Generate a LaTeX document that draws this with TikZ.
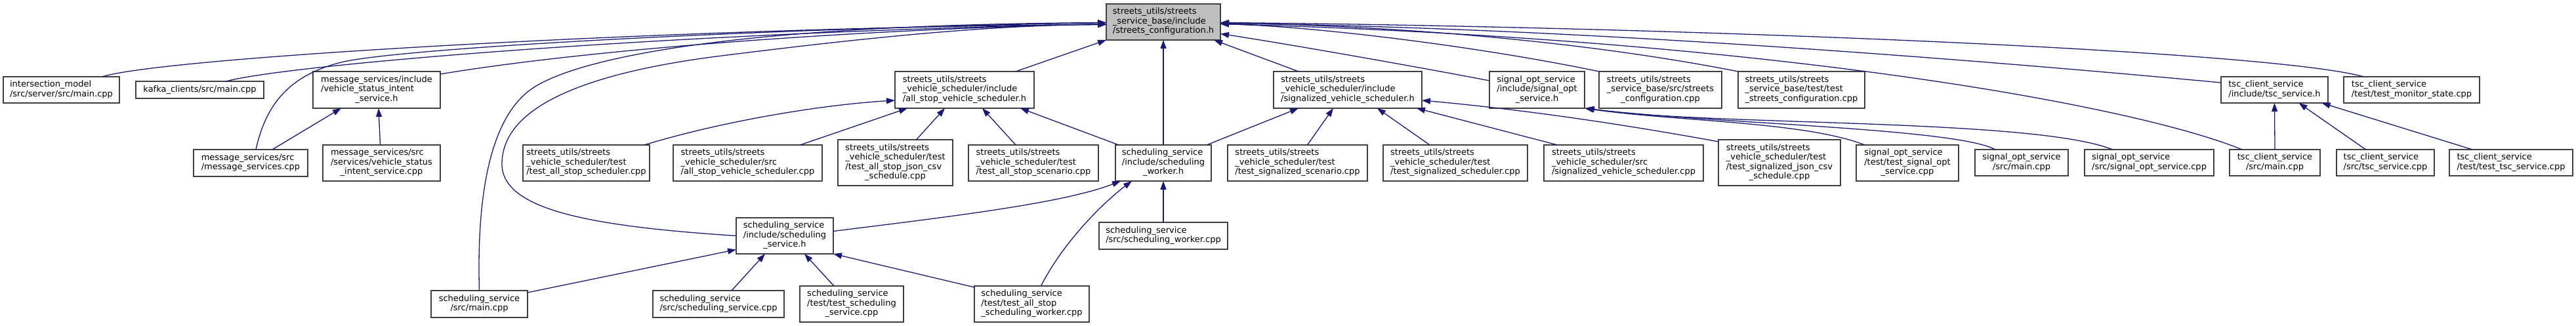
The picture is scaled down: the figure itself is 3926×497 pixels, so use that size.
\documentclass[tikz,border=0pt]{standalone}
\usepackage{fontspec}
\setmainfont{DejaVu Sans}
\usetikzlibrary{arrows.meta}
\definecolor{bordc}{HTML}{404040}
\definecolor{edgec}{HTML}{191970}
\definecolor{selc}{HTML}{BFBFBF}
\newcommand\dxTwo[2]{\begin{tabular}{@{}l@{}}#1\\\multicolumn{1}{@{}c@{}}{#2}\end{tabular}}
\newcommand\dxThree[3]{\begin{tabular}{@{}l@{}}#1\\#2\\\multicolumn{1}{@{}c@{}}{#3}\end{tabular}}
\newcommand\dxFour[4]{\begin{tabular}{@{}l@{}}#1\\#2\\#3\\\multicolumn{1}{@{}c@{}}{#4}\end{tabular}}
\tikzset{
  box/.style={draw=bordc, line width=1.3pt, fill=white, inner sep=0pt, outer sep=0pt,
    font=\fontsize{13}{14.5}\selectfont},
  sel/.style={box, fill=selc},
  edge/.style={draw=edgec, line width=1.3pt, -{Triangle[length=13pt,width=9pt]}}
}
\begin{document}
\begin{tikzpicture}[x=1pt,y=-1pt]
\useasboundingbox (0,0) rectangle (3926,497);
% nodes
\node[sel, minimum width=174pt, minimum height=55pt] (T) at (1773,33.5) {\dxThree{streets\_utils/streets}{\_service\_base/include}{/streets\_configuration.h}};
\node[box, minimum width=177pt, minimum height=40pt] (IM) at (93.5,137) {\dxTwo{intersection\_model}{/src/server/src/main.cpp}};
\node[box, minimum width=195pt, minimum height=26pt] (KC) at (304.5,137) {kafka\_clients/src/main.cpp};
\node[box, minimum width=194pt, minimum height=56pt] (MI) at (574,137) {\dxThree{message\_services/include}{/vehicle\_status\_intent}{\_service.h}};
\node[box, minimum width=174pt, minimum height=41pt] (MS) at (382,248.5) {\dxTwo{message\_services/src}{/message\_services.cpp}};
\node[box, minimum width=179pt, minimum height=55pt] (MV) at (581.5,248.5) {\dxThree{message\_services/src}{/services/vehicle\_status}{\_intent\_service.cpp}};
\node[box, minimum width=193pt, minimum height=55pt] (TAS) at (893.5,248.5) {\dxThree{streets\_utils/streets}{\_vehicle\_scheduler/test}{/test\_all\_stop\_scheduler.cpp}};
\node[box, minimum width=212pt, minimum height=56pt] (A) at (1470,137) {\dxThree{streets\_utils/streets}{\_vehicle\_scheduler/include}{/all\_stop\_vehicle\_scheduler.h}};
\node[box, minimum width=227pt, minimum height=55pt] (AC) at (1139.5,248.5) {\dxThree{streets\_utils/streets}{\_vehicle\_scheduler/src}{/all\_stop\_vehicle\_scheduler.cpp}};
\node[box, minimum width=175pt, minimum height=70pt] (AJ) at (1364.5,248) {\dxFour{streets\_utils/streets}{\_vehicle\_scheduler/test}{/test\_all\_stop\_json\_csv}{\_schedule.cpp}};
\node[box, minimum width=198pt, minimum height=55pt] (ASc) at (1575,248.5) {\dxThree{streets\_utils/streets}{\_vehicle\_scheduler/test}{/test\_all\_stop\_scenario.cpp}};
\node[box, minimum width=146pt, minimum height=55pt] (W) at (1773,248.5) {\dxThree{scheduling\_service}{/include/scheduling}{\_worker.h}};
\node[box, minimum width=226pt, minimum height=56pt] (S) at (2054,137) {\dxThree{streets\_utils/streets}{\_vehicle\_scheduler/include}{/signalized\_vehicle\_scheduler.h}};
\node[box, minimum width=213pt, minimum height=55pt] (SSc) at (1977.5,248.5) {\dxThree{streets\_utils/streets}{\_vehicle\_scheduler/test}{/test\_signalized\_scenario.cpp}};
\node[box, minimum width=145pt, minimum height=56pt] (O) at (2342.5,137) {\dxThree{signal\_opt\_service}{/include/signal\_opt}{\_service.h}};
\node[box, minimum width=187pt, minimum height=56pt] (SCC) at (2530.5,137) {\dxThree{streets\_utils/streets}{\_service\_base/src/streets}{\_configuration.cpp}};
\node[box, minimum width=193pt, minimum height=56pt] (SCT) at (2745.5,137) {\dxThree{streets\_utils/streets}{\_service\_base/test/test}{\_streets\_configuration.cpp}};
\node[box, minimum width=220pt, minimum height=55pt] (SSch) at (2218,248.5) {\dxThree{streets\_utils/streets}{\_vehicle\_scheduler/test}{/test\_signalized\_scheduler.cpp}};
\node[box, minimum width=243pt, minimum height=55pt] (SC) at (2474.5,248.5) {\dxThree{streets\_utils/streets}{\_vehicle\_scheduler/src}{/signalized\_vehicle\_scheduler.cpp}};
\node[box, minimum width=186pt, minimum height=70pt] (SJ) at (2712,248) {\dxFour{streets\_utils/streets}{\_vehicle\_scheduler/test}{/test\_signalized\_json\_csv}{\_schedule.cpp}};
\node[box, minimum width=156pt, minimum height=55pt] (OT) at (2907,248.5) {\dxThree{signal\_opt\_service}{/test/test\_signal\_opt}{\_service.cpp}};
\node[box, minimum width=142pt, minimum height=40pt] (OM) at (3081,248) {\dxTwo{signal\_opt\_service}{/src/main.cpp}};
\node[box, minimum width=197pt, minimum height=40pt] (OS) at (3275.5,248) {\dxTwo{signal\_opt\_service}{/src/signal\_opt\_service.cpp}};
\node[box, minimum width=138pt, minimum height=40pt] (CM) at (3467,248) {\dxTwo{tsc\_client\_service}{/src/main.cpp}};
\node[box, minimum width=149pt, minimum height=40pt] (CS) at (3635.5,248) {\dxTwo{tsc\_client\_service}{/src/tsc\_service.cpp}};
\node[box, minimum width=188pt, minimum height=40pt] (CT) at (3827,248) {\dxTwo{tsc\_client\_service}{/test/test\_tsc\_service.cpp}};
\node[box, minimum width=163pt, minimum height=40pt] (C) at (3466.5,137) {\dxTwo{tsc\_client\_service}{/include/tsc\_service.h}};
\node[box, minimum width=207pt, minimum height=40pt] (CMon) at (3675.5,137) {\dxTwo{tsc\_client\_service}{/test/test\_monitor\_state.cpp}};
\node[box, minimum width=148pt, minimum height=55pt] (H) at (1196,359.5) {\dxThree{scheduling\_service}{/include/scheduling}{\_service.h}};
\node[box, minimum width=196pt, minimum height=41pt] (WC) at (1773,359.5) {\dxTwo{scheduling\_service}{/src/scheduling\_worker.cpp}};
\node[box, minimum width=147pt, minimum height=41pt] (SM) at (730.5,463.5) {\dxTwo{scheduling\_service}{/src/main.cpp}};
\node[box, minimum width=200pt, minimum height=41pt] (HC) at (1095,463.5) {\dxTwo{scheduling\_service}{/src/scheduling\_service.cpp}};
\node[box, minimum width=158pt, minimum height=55pt] (HT) at (1298,463.5) {\dxThree{scheduling\_service}{/test/test\_scheduling}{\_service.cpp}};
\node[box, minimum width=175pt, minimum height=55pt] (HW) at (1572.5,463.5) {\dxThree{scheduling\_service}{/test/test\_all\_stop}{\_scheduling\_worker.cpp}};
% edges to streets_configuration.h
\draw[edge] ([xshift=62pt]IM.north) .. controls (260,85) and (1100,40) .. ([yshift=-4pt]T.west);
\draw[edge] ([xshift=40pt]KC.north) .. controls (430,100) and (1000,50) .. ([yshift=-3pt]T.west);
\draw[edge] ([yshift=-4pt]MI.north east) .. controls (900,75) and (1300,45) .. ([yshift=-3pt]T.west);
\draw[edge] ([xshift=8pt]MS.north) .. controls (405,160) and (440,115) .. (520,95) .. controls (600,75) and (1100,45) .. ([yshift=-1pt]T.west);
\draw[edge] (SM.north) .. controls (727,320) and (740,180) .. (814,133) .. controls (880,91) and (1100,38) .. ([yshift=-1pt]T.west);
\draw[edge] (H.west) .. controls (900,345) and (765,320) .. (765,250) .. controls (765,160) and (900,110) .. (1100,85) .. controls (1300,60) and (1500,38) .. ([yshift=-4pt]T.west);
\draw[edge] ([xshift=78pt]A.north) -- (T.south west);
\draw[edge] (W.north) -- (T.south);
\draw[edge] ([xshift=-75pt]S.north) -- ([xshift=-10pt]T.south east);
\draw[edge] ([yshift=14pt]O.west) .. controls (2150,100) and (1950,65) .. ([yshift=-18pt]T.east);
\draw[edge] (SCC.north west) .. controls (2250,70) and (2000,40) .. ([yshift=-3pt]T.east);
\draw[edge] (SCT.north west) .. controls (2400,60) and (2100,38) .. ([yshift=-2pt]T.east);
\draw[edge] ([yshift=11pt]C.west) .. controls (3000,90) and (2400,42) .. ([yshift=-2pt]T.east);
\draw[edge] ([xshift=-73pt]CMon.north) .. controls (3450,75) and (2500,40) .. ([yshift=-1pt]T.east);
\draw[edge] ([xshift=-50pt]CM.north) .. controls (3250,160) and (2700,60) .. ([yshift=-3pt]T.east);
% edges to all_stop_vehicle_scheduler.h
\draw[edge] ([xshift=-8pt]TAS.north east) .. controls (1100,185) and (1250,160) .. ([yshift=-16pt]A.west);
\draw[edge] ([xshift=80pt]AC.north) -- ([xshift=-87pt]A.south);
\draw[edge] ([xshift=32pt]AJ.north) -- ([xshift=-30pt]A.south);
\draw[edge] ([xshift=-27pt]ASc.north) -- ([xshift=27pt]A.south);
\draw[edge] ([xshift=-68pt]W.north) -- ([xshift=85pt]A.south);
% edges to signalized_vehicle_scheduler.h
\draw[edge] ([xshift=66pt]W.north) -- ([xshift=-75pt]S.south);
\draw[edge] ([xshift=15pt]SSc.north) -- ([xshift=-22pt]S.south);
\draw[edge] ([xshift=-39pt]SSch.north) -- ([xshift=45pt]S.south);
\draw[edge] ([xshift=-101pt]SC.north) -- ([xshift=105pt]S.south);
\draw[edge] ([yshift=-3pt]SJ.north west) .. controls (2450,185) and (2300,165) .. ([yshift=-16pt]S.east);
% edges to signal_opt_service.h
\draw[edge] ([xshift=-65pt]OT.north) .. controls (2750,185) and (2550,185) .. ([xshift=2pt]O.south east);
\draw[edge] ([xshift=-40pt]OM.north) .. controls (2980,195) and (2600,188) .. ([xshift=1pt]O.south east);
\draw[edge] ([xshift=-56pt]OS.north) .. controls (3100,180) and (2600,192) .. (O.south east);
% edges to tsc_service.h
\draw[edge] (CM.north) -- (C.south);
\draw[edge] ([xshift=-30pt]CS.north) -- ([xshift=37pt]C.south);
\draw[edge] ([xshift=-59pt]CT.north) -- ([xshift=72pt]C.south);
% edges to scheduling_worker.h
\draw[edge] ([yshift=7pt]H.east) .. controls (1450,330) and (1620,310) .. ([xshift=8pt]W.south west);
\draw[edge] ([xshift=14pt]HW.north) .. controls (1620,370) and (1680,310) .. ([xshift=-48pt]W.south);
\draw[edge] (WC.north) -- (W.south);
% edges to scheduling_service.h
\draw[edge] ([yshift=-3pt]SM.north east) -- ([yshift=-21pt]H.west);
\draw[edge] ([xshift=20pt]HC.north) -- ([xshift=-30pt]H.south);
\draw[edge] ([xshift=-27pt]HT.north) -- ([xshift=30pt]H.south);
\draw[edge] ([yshift=-2pt]HW.north west) -- (H.south east);
% edges to vehicle_status_intent_service.h
\draw[edge] ([xshift=33pt]MS.north) -- ([xshift=-54pt]MI.south);
\draw[edge] ([xshift=-2pt]MV.north) -- ([xshift=3pt]MI.south);
\end{tikzpicture}
\end{document}
